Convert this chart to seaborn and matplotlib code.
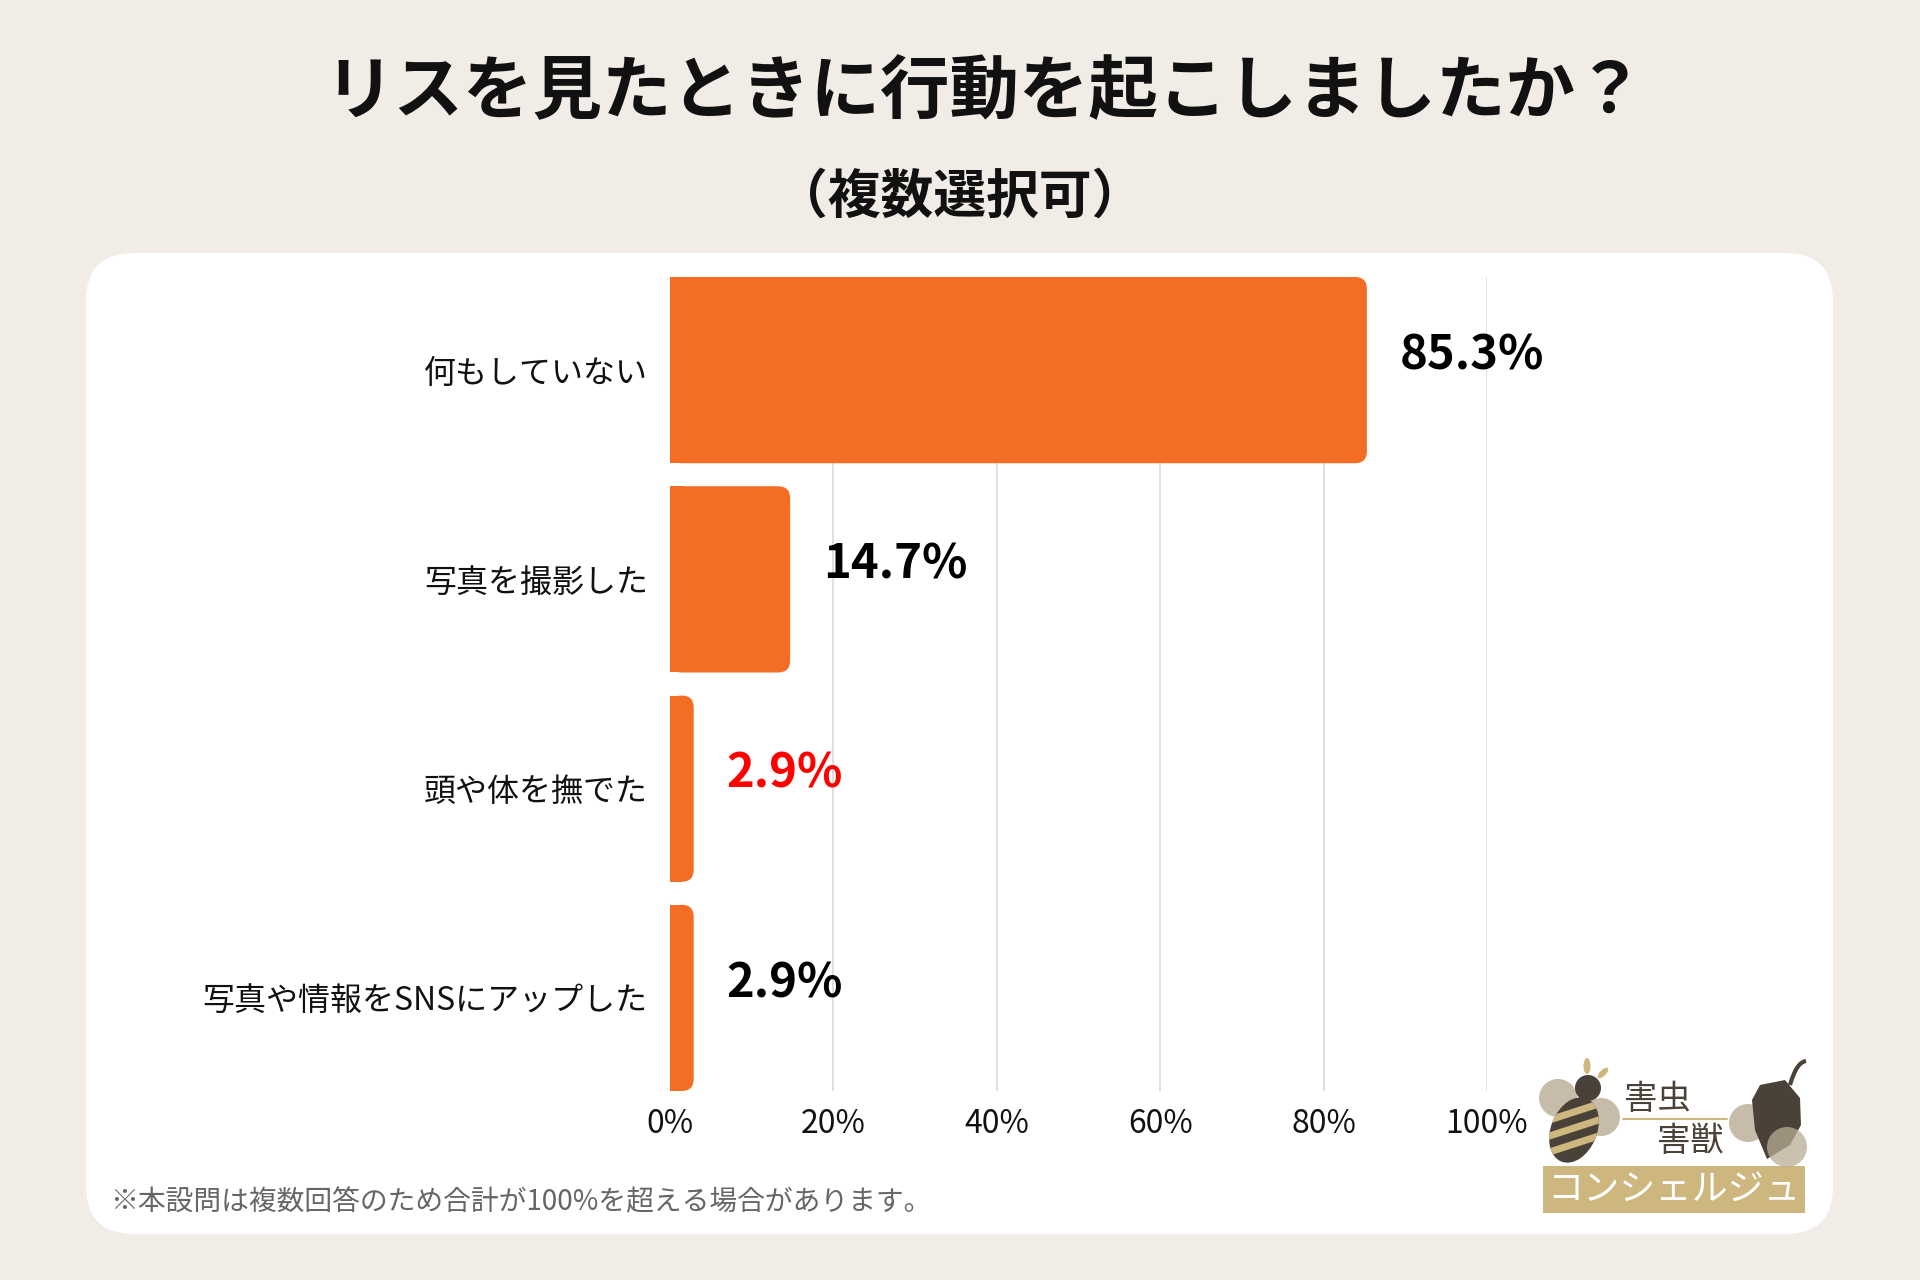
import numpy as np
import pandas as pd
import matplotlib
matplotlib.use("Agg")
import matplotlib.pyplot as plt
import seaborn as sns
from matplotlib.patches import FancyBboxPatch, Rectangle, Circle, Ellipse, Polygon
from matplotlib.path import Path
from matplotlib.patches import PathPatch

# データ
categories = ["何もしていない", "写真を撮影した", "頭や体を撫でた", "写真や情報をSNSにアップした"]
values = [85.3, 14.7, 2.9, 2.9]
label_colors = ["#000000", "#000000", "#FF0000", "#000000"]
tick_vals = [0, 20, 40, 60, 80, 100]
tick_labels = ["0%", "20%", "40%", "60%", "80%", "100%"]

title = "リスを見たときに行動を起こしましたか？"
subtitle = "（複数選択可）"
note = "※本設問は複数回答のため合計が100%を超える場合があります。"

sns.set_theme(style="white")
plt.rcParams['font.family'] = ['Noto Sans CJK JP', 'DejaVu Sans']

BG = "#F1EDE6"
ORANGE = "#F36D25"
DARK = "#4A4238"
TAN = "#CDB77E"
LIGHT = "#B9AC95"

fig = plt.figure(figsize=(19.2, 12.8), dpi=100)
fig.patch.set_facecolor(BG)

# 背景用の軸（ピクセル座標）
bg = fig.add_axes([0, 0, 1, 1], zorder=0)
bg.set_xlim(0, 1920)
bg.set_ylim(1280, 0)
bg.axis("off")
bg.add_patch(FancyBboxPatch((86, 253), 1747, 981, boxstyle="round,pad=0,rounding_size=48",
                            fc="white", ec="none"))

bg.text(985, 93, title, ha="center", va="center", fontsize=50, fontweight="bold", color="#111111")
bg.text(960, 197, subtitle, ha="center", va="center", fontsize=38, fontweight="bold", color="#111111")
bg.text(110, 1202, note, ha="left", va="center", fontsize=20, color="#666666")

# グラフ
ax = fig.add_axes([670 / 1920, 1 - 1091 / 1280, 817 / 1920, 814 / 1280], zorder=1)
ax.set_facecolor("none")
df = pd.DataFrame({"item": categories, "pct": values})
sns.barplot(data=df, x="pct", y="item", color=ORANGE, width=0.89, ax=ax, saturation=1)

ax.set_xlim(0, 100)
ax.set_ylim(3.445, -0.445)

# 角丸の棒に置き換え
r = 1.47
asp = 0.039
for p in list(ax.patches):
    x0, y0 = p.get_x(), p.get_y()
    w, h = p.get_width(), p.get_height()
    p.remove()
    ax.add_patch(FancyBboxPatch((x0, y0), w, h, boxstyle=f"round,pad=0,rounding_size={r}",
                                mutation_aspect=asp, fc=ORANGE, ec="none", zorder=3))
    ax.add_patch(Rectangle((x0, y0), min(w / 2, r * 1.2), h, fc=ORANGE, ec="none", zorder=3))

for i, v in enumerate(values):
    ax.text(v + 4.0, i - 0.07, f"{v}%", ha="left", va="center", fontsize=34,
            fontweight="bold", color=label_colors[i], clip_on=False, zorder=4)

for t in tick_vals[1:]:
    ax.axvline(t, color="#D9D9D9", lw=1.2, zorder=1)

ax.set_xticks(tick_vals)
ax.set_xticklabels(tick_labels, fontsize=23, color="#111111")
ax.tick_params(axis="x", length=0, pad=12)
ax.tick_params(axis="y", length=0, pad=16, labelsize=23, labelcolor="#111111")
ax.set_xlabel("")
ax.set_ylabel("")
ax.grid(False)
sns.despine(ax=ax, left=True, bottom=True)

# ロゴ（簡易）
lg = fig.add_axes([0, 0, 1, 1], zorder=2)
lg.set_xlim(0, 1920)
lg.set_ylim(1280, 0)
lg.axis("off")
lg.add_patch(Circle((1558, 1098), 19, fc=LIGHT, ec="none", alpha=0.8))
lg.add_patch(Circle((1601, 1117), 19, fc=LIGHT, ec="none", alpha=0.8))
body = Ellipse((1574, 1130), 46, 68, angle=22, fc=DARK, ec="none")
lg.add_patch(body)
for k, yy in enumerate([1108, 1124, 1140]):
    s = Rectangle((1540, yy), 70, 7, angle=-18, fc=TAN, ec="none", rotation_point=(1575, yy))
    s.set_clip_path(body)
    lg.add_patch(s)
lg.add_patch(Circle((1588, 1088), 13, fc=DARK, ec="none"))
lg.add_patch(Ellipse((1587, 1066), 7, 16, angle=0, fc=TAN, ec="none"))
lg.add_patch(Ellipse((1603, 1073), 6, 14, angle=45, fc=TAN, ec="none"))

lg.text(1657, 1100, "害虫", ha="center", va="center", fontsize=24, color=DARK)
lg.plot([1623, 1727], [1119, 1119], color=TAN, lw=1.5)
lg.text(1690, 1142, "害獣", ha="center", va="center", fontsize=24, color=DARK)

lg.add_patch(Rectangle((1543, 1166), 262, 47, fc=TAN, ec="none"))
lg.text(1674, 1190, "コンシェルジュ", ha="center", va="center", fontsize=26, color="white")

lg.add_patch(Circle((1748, 1123), 19, fc=LIGHT, ec="none", alpha=0.8))
acorn = Polygon([(1760, 1085), (1785, 1080), (1800, 1098), (1801, 1125),
                 (1790, 1145), (1767, 1159), (1755, 1130), (1752, 1100)],
                closed=True, fc=DARK, ec="none")
lg.add_patch(acorn)
lg.add_patch(Circle((1787, 1147), 20, fc=LIGHT, ec="none", alpha=0.75))
stem = Path([(1790, 1085), (1795, 1068), (1800, 1062), (1806, 1061)],
            [Path.MOVETO, Path.CURVE4, Path.CURVE4, Path.CURVE4])
lg.add_patch(PathPatch(stem, fc="none", ec=DARK, lw=3))

fig.savefig("out.png", dpi=100, facecolor=BG)
